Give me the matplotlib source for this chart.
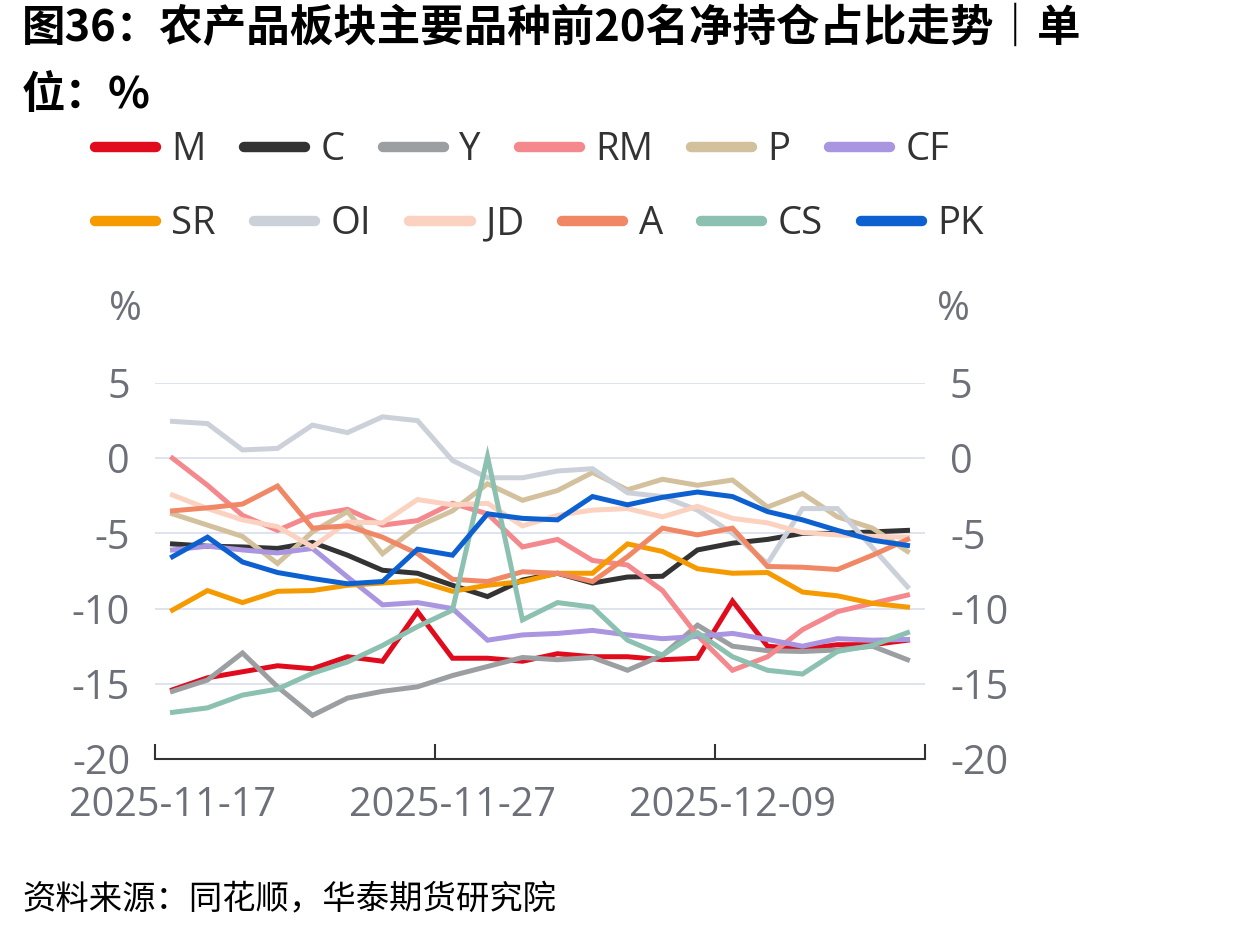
import matplotlib
matplotlib.use("Agg")
import matplotlib.pyplot as plt
from matplotlib.lines import Line2D

plt.rcParams['font.family'] = ['Open Sans', 'Noto Sans CJK SC', 'DejaVu Sans']

# trading days shown on the category axis
dates = ['2025-11-17', '2025-11-18', '2025-11-19', '2025-11-20', '2025-11-21',
         '2025-11-24', '2025-11-25', '2025-11-26', '2025-11-27', '2025-11-28',
         '2025-12-01', '2025-12-02', '2025-12-03', '2025-12-04', '2025-12-05',
         '2025-12-08', '2025-12-09', '2025-12-10', '2025-12-11', '2025-12-12',
         '2025-12-15', '2025-12-16']
shown_dates = ['2025-11-17', '2025-11-27', '2025-12-09']

M = [-15.4, -14.6, -14.2, -13.8, -14.0, -13.2, -13.5, -10.2, -13.3, -13.3, -13.5,
     -13.0, -13.2, -13.2, -13.4, -13.3, -9.5, -12.5, -12.7, -12.4, -12.4, -12.1]
C = [-5.7, -5.85, -5.9, -6.0, -5.6, -6.45, -7.45, -7.65, -8.45, -9.2, -8.1,
     -7.65, -8.3, -7.9, -7.85, -6.1, -5.65, -5.4, -5.0, -5.0, -4.9, -4.8]
Y = [-15.5, -14.75, -12.95, -15.2, -17.1, -15.95, -15.5, -15.2, -14.45, -13.85, -13.25,
     -13.4, -13.25, -14.1, -13.1, -11.1, -12.5, -12.8, -12.85, -12.75, -12.5, -13.4]
RM = [0.0, -1.8, -3.8, -4.8, -3.8, -3.4, -4.45, -4.15, -3.0, -3.7, -5.9,
      -5.4, -6.8, -7.1, -8.8, -11.8, -14.1, -13.2, -11.4, -10.2, -9.65, -9.1]
P = [-3.7, -4.45, -5.2, -7.0, -4.9, -3.55, -6.35, -4.55, -3.5, -1.7, -2.8,
     -2.15, -0.95, -2.1, -1.4, -1.8, -1.45, -3.25, -2.35, -3.9, -4.65, -6.2]
CF = [-6.1, -5.85, -6.1, -6.3, -6.0, -7.9, -9.75, -9.6, -10.0, -12.1, -11.75,
      -11.65, -11.45, -11.75, -12.0, -11.85, -11.65, -12.05, -12.5, -12.0, -12.1, -12.05]
SR = [-10.1, -8.8, -9.6, -8.85, -8.8, -8.45, -8.3, -8.15, -8.85, -8.45, -8.2,
      -7.65, -7.65, -5.7, -6.2, -7.35, -7.65, -7.6, -8.9, -9.15, -9.65, -9.9]
OI = [2.45, 2.3, 0.55, 0.65, 2.2, 1.7, 2.75, 2.5, -0.15, -1.3, -1.3,
      -0.85, -0.7, -2.3, -2.55, -3.45, -5.0, -7.0, -3.35, -3.35, -5.95, -8.55]
JD = [-2.45, -3.35, -4.1, -4.55, -5.9, -4.25, -4.3, -2.75, -3.1, -3.0, -4.5,
      -3.8, -3.45, -3.35, -3.9, -3.2, -4.0, -4.3, -4.95, -5.1, -5.2, -5.25]
A = [-3.5, -3.3, -3.05, -1.85, -4.65, -4.5, -5.25, -6.35, -8.05, -8.2, -7.55,
     -7.65, -8.2, -6.55, -4.65, -5.1, -4.65, -7.2, -7.25, -7.4, -6.45, -5.4]
CS = [-16.9, -16.6, -15.75, -15.35, -14.3, -13.55, -12.45, -11.2, -10.1, 0.1, -10.75,
      -9.6, -9.9, -12.1, -13.1, -11.6, -13.2, -14.1, -14.35, -12.85, -12.45, -11.6]
PK = [-6.55, -5.25, -6.9, -7.6, -8.0, -8.35, -8.2, -6.05, -6.45, -3.7, -4.0,
      -4.1, -2.55, -3.1, -2.6, -2.25, -2.55, -3.55, -4.1, -4.8, -5.45, -5.8]

names = ['M', 'C', 'Y', 'RM', 'P', 'CF', 'SR', 'OI', 'JD', 'A', 'CS', 'PK']
series = [M, C, Y, RM, P, CF, SR, OI, JD, A, CS, PK]
colors = ['#e00b1c', '#333333', '#9c9fa2', '#f4888d', '#d3c09c', '#a995e0',
          '#f59a00', '#cbd0d9', '#fbd2bf', '#f08866', '#8cc0b0', '#0c60d0']

tick_color = '#6e7079'
grid_color = '#dfe3ee'
tick_size = 28.5

fig = plt.figure(figsize=(12.4, 9.31), dpi=100)
ax = fig.add_axes([155 / 1240, 1 - 759 / 931, 770 / 1240, 376 / 931])

x = list(range(len(dates)))
for name, vals, col in zip(names, series, colors):
    ax.plot(x, vals, color=col, lw=3.6, solid_joinstyle='miter', label=name)

ax.set_xlim(-0.5, len(dates) - 0.5)
ax.set_ylim(-20, 5)
ax.set_yticks([-20, -15, -10, -5, 0, 5])
ax.set_yticklabels(['-20', '-15', '-10', '-5', '0', '5'])
for yv in [-15, -10, -5, 0, 5]:
    ax.axhline(yv, color=grid_color, lw=1.4, zorder=0)

# category boundaries carry the tick marks, labels sit on the category centres
ax.set_xticks([-0.5, 7.5, 15.5, len(dates) - 0.5])
ax.set_xticklabels([])
ax.set_xticks([dates.index(d) for d in shown_dates], minor=True)
ax.set_xticklabels(shown_dates, minor=True)
ax.tick_params(axis='x', which='major', direction='in', length=11, width=1.5, color='#333333')
ax.tick_params(axis='x', which='minor', length=0, pad=19, labelsize=tick_size, labelcolor=tick_color)
ax.tick_params(axis='y', length=0, pad=18, labelsize=tick_size, labelcolor=tick_color)

for side in ['top', 'left', 'right']:
    ax.spines[side].set_visible(False)
ax.spines['bottom'].set_color('#333333')
ax.spines['bottom'].set_linewidth(1.5)

ax2 = ax.twinx()
ax2.set_ylim(ax.get_ylim())
ax2.set_yticks([-20, -15, -10, -5, 0, 5])
ax2.set_yticklabels(['-20', '-15', '-10', '-5', '0', '5'])
ax2.tick_params(axis='y', length=0, pad=18, labelsize=tick_size, labelcolor=tick_color)
for side in ax2.spines:
    ax2.spines[side].set_visible(False)

fig.text(125 / 1240, 1 - 310 / 931, '%', ha='center', va='center', fontsize=tick_size, color=tick_color)
fig.text(937 / 1240, 1 - 310 / 931, '%', ha='left', va='center', fontsize=tick_size, color=tick_color)

# legend rows are packed separately, like the source chart
handles = [Line2D([], [], color=c, lw=7.5, solid_capstyle='round') for c in colors]
for row, ypix in [(0, 150), (1, 224)]:
    sl = slice(row * 6, row * 6 + 6)
    leg = fig.legend(handles[sl], names[sl], loc='center left',
                     bbox_to_anchor=(95 / 1240, 1 - ypix / 931), ncol=6, frameon=False,
                     fontsize=27.5, handlelength=1.6, handletextpad=0.4, columnspacing=1.0,
                     borderpad=0, borderaxespad=0)
    for t in leg.get_texts():
        t.set_color('#333333')

fig.text(22 / 1240, 1 - 6 / 931, '图36：农产品板块主要品种前20名净持仓占比走势｜单\n位：%',
         ha='left', va='top', fontsize=31.3, fontweight='bold', linespacing=1.67,
         family=['Noto Sans CJK SC', 'DejaVu Sans'], color='black')

fig.text(22 / 1240, 1 - 900 / 931, '资料来源：同花顺，华泰期货研究院', ha='left', va='center',
         fontsize=24, style='italic', family=['Noto Sans CJK SC', 'DejaVu Sans'], color='black')

fig.savefig('out.png', dpi=100, facecolor='white')
